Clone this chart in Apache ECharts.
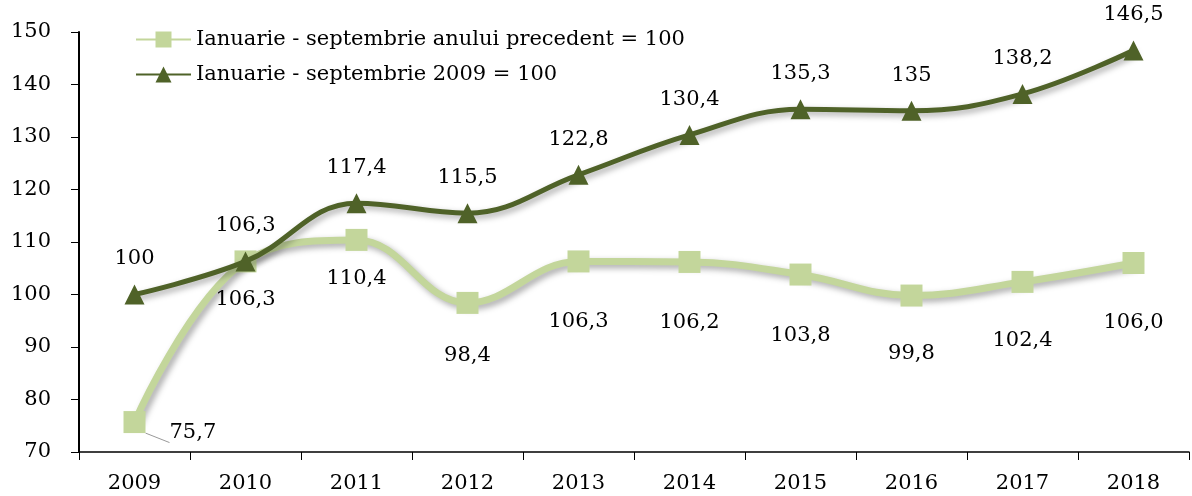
<!DOCTYPE html>
<html>
<head>
<meta charset="utf-8">
<script src="https://cdn.jsdelivr.net/npm/echarts@6/dist/echarts.min.js"></script>
<style>
  html, body { margin: 0; padding: 0; background: #fff; }
  #chart { width: 1192px; height: 496px; }
</style>
</head>
<body>
<div id="chart"></div>
<script>
const years = ['2009', '2010', '2011', '2012', '2013', '2014', '2015', '2016', '2017', '2018'];
const prevYear = [75.7, 106.3, 110.4, 98.4, 106.3, 106.2, 103.8, 99.8, 102.4, 106.0];
const base2009 = [100, 106.3, 117.4, 115.5, 122.8, 130.4, 135.3, 135, 138.2, 146.5];

const FONT = 'DejaVu Serif';
const FS = 21;
const LIGHT = '#c3d69b';
const DARK = '#4f6228';

// label distances under the light series (hand placed in the original)
const lightDist = [0, 17, 17, 31, 39, 39, 39, 36, 37, 38];

const lightData = prevYear.map((v, i) => {
  if (i === 0) {
    return {
      value: v,
      label: { position: 'right', distance: 24, offset: [0, 10] },
      labelLine: { show: true, length2: 0, lineStyle: { color: '#999', width: 1 } }
    };
  }
  return { value: v, label: { distance: lightDist[i] } };
});

const chart = echarts.init(document.getElementById('chart'));
chart.setOption({
  animation: false,
  textStyle: { fontFamily: FONT },
  grid: { left: 79, right: 3, top: 32, bottom: 44 },
  legend: {
    orient: 'vertical',
    left: 130,
    top: 24,
    itemWidth: 55,
    itemHeight: 20,
    itemGap: 14,
    textStyle: { fontFamily: FONT, fontSize: FS, color: '#000' },
    data: ['Ianuarie - septembrie anului precedent = 100', 'Ianuarie - septembrie 2009 = 100']
  },
  xAxis: {
    type: 'category',
    data: years,
    boundaryGap: true,
    axisLine: { lineStyle: { color: '#000', width: 1.5 } },
    axisTick: { show: true, length: 8, lineStyle: { color: '#000' } },
    axisLabel: { fontFamily: FONT, fontSize: FS, color: '#000', margin: 21 }
  },
  yAxis: {
    type: 'value',
    min: 70,
    max: 150,
    interval: 10,
    axisLine: { show: true, lineStyle: { color: '#000', width: 2 } },
    axisTick: { show: true, length: 8, lineStyle: { color: '#000' } },
    splitLine: { show: false },
    axisLabel: { fontFamily: FONT, fontSize: FS, color: '#000', margin: 28 }
  },
  series: [
    {
      name: 'Ianuarie - septembrie anului precedent = 100',
      type: 'line',
      smooth: 0.4,
      data: lightData,
      symbol: 'rect',
      symbolSize: 22,
      itemStyle: { color: LIGHT },
      lineStyle: {
        color: LIGHT, width: 7,
        shadowColor: 'rgba(0,0,0,0.35)', shadowBlur: 6, shadowOffsetX: 3, shadowOffsetY: 3
      },
      label: {
        show: true,
        position: 'bottom',
        fontFamily: FONT,
        fontSize: FS,
        color: '#000',
        formatter: p => p.value.toFixed(1).replace('.', ',')
      },
      labelLine: { show: false },
      z: 2
    },
    {
      name: 'Ianuarie - septembrie 2009 = 100',
      type: 'line',
      smooth: 0.4,
      data: base2009,
      symbol: 'triangle',
      symbolSize: 20,
      itemStyle: { color: DARK },
      lineStyle: {
        color: DARK, width: 5,
        shadowColor: 'rgba(0,0,0,0.35)', shadowBlur: 6, shadowOffsetX: 3, shadowOffsetY: 3
      },
      label: {
        show: true,
        position: 'top',
        distance: 15,
        fontFamily: FONT,
        fontSize: FS,
        color: '#000',
        formatter: p => String(p.value).replace('.', ',')
      },
      z: 3
    }
  ]
});
</script>
</body>
</html>
